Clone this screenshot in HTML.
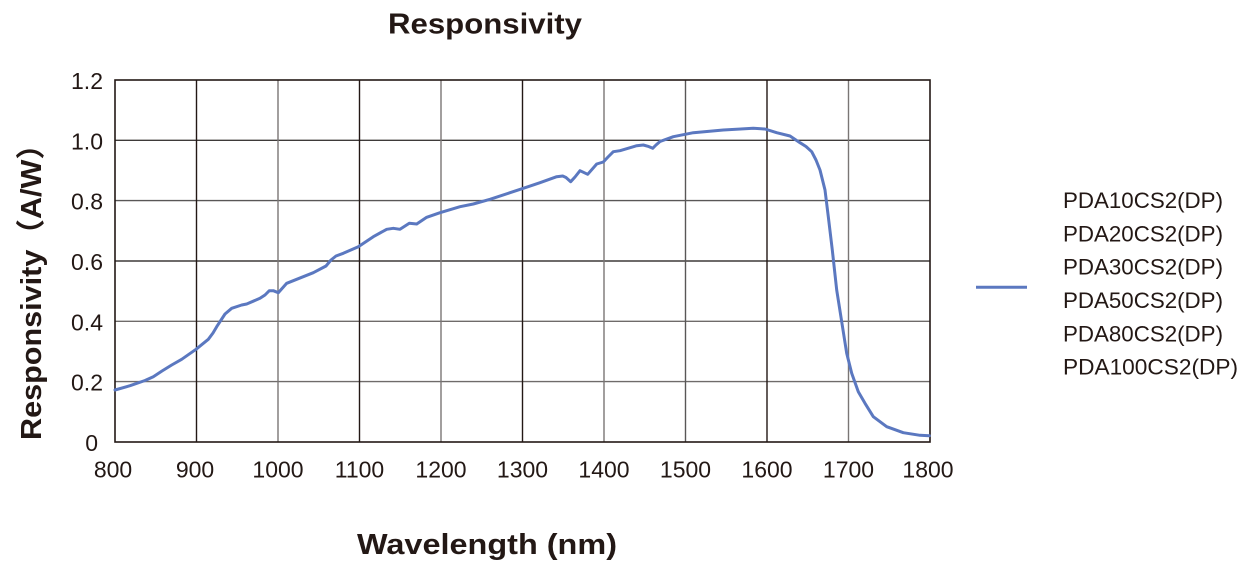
<!DOCTYPE html>
<html>
<head>
<meta charset="utf-8">
<style>
  html, body { margin: 0; padding: 0; background: #ffffff; }
  svg { display: block; }
  text { font-family: "Liberation Sans", "Noto Sans CJK SC", sans-serif; fill: #231815; }
</style>
</head>
<body>
<svg width="1250" height="579" viewBox="0 0 1250 579" xmlns="http://www.w3.org/2000/svg">
  <!-- Title -->
  <text x="388" y="33.5" font-size="29" font-weight="bold" textLength="194" lengthAdjust="spacingAndGlyphs">Responsivity</text>

  <!-- Grid: horizontal -->
  <g stroke-width="1.4" fill="none">
    <line x1="115" y1="140.3" x2="930" y2="140.3" stroke="#3e3a39"/>
    <line x1="115" y1="200.6" x2="930" y2="200.6" stroke="#595757"/>
    <line x1="115" y1="261" x2="930" y2="261" stroke="#3e3a39"/>
    <line x1="115" y1="321.3" x2="930" y2="321.3" stroke="#6f6b6a"/>
    <line x1="115" y1="381.6" x2="930" y2="381.6" stroke="#6f6b6a"/>
  </g>
  <!-- Grid: vertical -->
  <g stroke-width="1.4" fill="none">
    <line x1="196.5" y1="80" x2="196.5" y2="442" stroke="#231815"/>
    <line x1="278" y1="80" x2="278" y2="442" stroke="#7a7675"/>
    <line x1="359.5" y1="80" x2="359.5" y2="442" stroke="#231815"/>
    <line x1="441" y1="80" x2="441" y2="442" stroke="#7a7675"/>
    <line x1="522.5" y1="80" x2="522.5" y2="442" stroke="#231815"/>
    <line x1="604" y1="80" x2="604" y2="442" stroke="#7a7675"/>
    <line x1="685.5" y1="80" x2="685.5" y2="442" stroke="#595757"/>
    <line x1="767" y1="80" x2="767" y2="442" stroke="#231815"/>
    <line x1="848.5" y1="80" x2="848.5" y2="442" stroke="#7a7675"/>
  </g>
  <!-- Frame -->
  <rect x="115" y="80" width="815" height="362" fill="none" stroke="#231815" stroke-width="1.6"/>

  <!-- Y tick labels -->
  <g font-size="23" text-anchor="end">
    <text x="103" y="89">1.2</text>
    <text x="103" y="149.3">1.0</text>
    <text x="103" y="209.6">0.8</text>
    <text x="103" y="270">0.6</text>
    <text x="103" y="330.3">0.4</text>
    <text x="103" y="390.6">0.2</text>
    <text x="98" y="451">0</text>
  </g>

  <!-- X tick labels -->
  <g font-size="23" text-anchor="middle">
    <text x="113" y="477.5">800</text>
    <text x="195" y="477.5">900</text>
    <text x="278" y="477.5">1000</text>
    <text x="359.5" y="477.5">1100</text>
    <text x="441" y="477.5">1200</text>
    <text x="522.5" y="477.5">1300</text>
    <text x="604" y="477.5">1400</text>
    <text x="685.5" y="477.5">1500</text>
    <text x="767" y="477.5">1600</text>
    <text x="848.5" y="477.5">1700</text>
    <text x="928" y="477.5">1800</text>
  </g>

  <!-- Axis titles -->
  <text x="357" y="554" font-size="29" font-weight="bold" textLength="260" lengthAdjust="spacingAndGlyphs">Wavelength (nm)</text>
  <text transform="translate(41,440) rotate(-90)" x="0" y="0" font-size="29" font-weight="bold" textLength="311" lengthAdjust="spacingAndGlyphs">Responsivity（A/W）</text>

  <!-- Curve -->
  <polyline fill="none" stroke="#5b78c0" stroke-width="3" stroke-linejoin="round" stroke-linecap="round"
    points="115,390 130,385.7 145,380.5 153.3,376.7 162,371 171.7,365 181.7,359.3 196,349.3 208.3,339.3 213,333 216.7,326.7 225,314 231.7,308.3 241.7,305 246.7,304 260,298.3 265,295 269.3,290.7 273.3,290.7 278.3,292.7 286.7,283.3 296.7,279.3 313.3,272.7 326,266 331,260 336,256 343.3,253.3 358.3,246.7 373.3,236.7 386.7,229.3 393.3,228.3 400,229.3 409.3,223.3 416.7,224 426.7,217.3 440,212.7 460,206.7 473.3,204 490,199.3 510,192.7 523.3,188.3 540,182.7 556.7,176.7 562.7,176 566,177.5 570.7,181.7 575,177 580,170.7 587.7,174.3 596.7,164 603.3,162 608,157 613.3,151.7 620,150.7 636.7,145.7 643.3,145 648,146.3 652.7,148.3 656,145 660,141.5 673.3,136.7 693.3,132.7 723.3,130 753.3,128.3 765,129 776.7,132.7 790,136 800,142.7 806,146.5 811.7,151.7 816,160 820,170 825,190 828.3,216.7 832.3,250 836.7,290 841.7,321.7 846.7,353.3 851.7,373.3 858.3,391.7 865,403.3 873.3,416.7 886.7,426.7 903.3,432.7 920,435.3 929.3,435.7"/>

  <!-- Legend -->
  <line x1="976" y1="287.3" x2="1027" y2="287.3" stroke="#5b78c0" stroke-width="3"/>
  <g font-size="22">
    <text x="1063" y="208" textLength="160" lengthAdjust="spacingAndGlyphs">PDA10CS2(DP)</text>
    <text x="1063" y="241.3" textLength="160" lengthAdjust="spacingAndGlyphs">PDA20CS2(DP)</text>
    <text x="1063" y="274.7" textLength="160" lengthAdjust="spacingAndGlyphs">PDA30CS2(DP)</text>
    <text x="1063" y="308" textLength="160" lengthAdjust="spacingAndGlyphs">PDA50CS2(DP)</text>
    <text x="1063" y="341.3" textLength="160" lengthAdjust="spacingAndGlyphs">PDA80CS2(DP)</text>
    <text x="1063" y="374.7" textLength="175" lengthAdjust="spacingAndGlyphs">PDA100CS2(DP)</text>
  </g>
</svg>
</body>
</html>
